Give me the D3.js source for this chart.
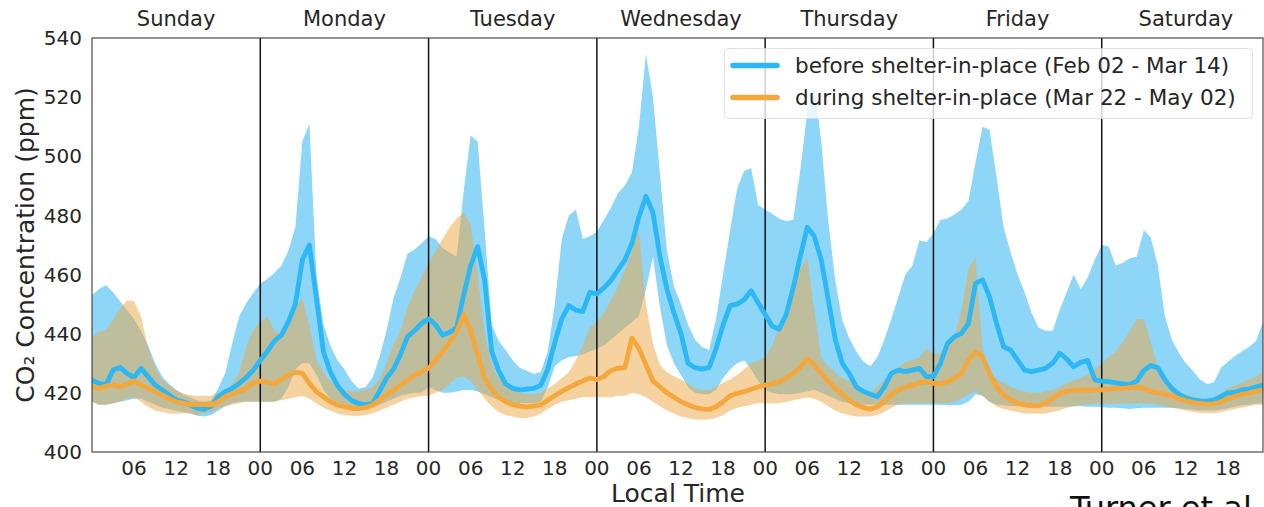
<!DOCTYPE html>
<html>
<head>
<meta charset="utf-8">
<script src="https://cdn.jsdelivr.net/npm/d3@7/dist/d3.min.js"></script>
<style>
  html, body { margin: 0; padding: 0; background: #fff; }
  svg { display: block; font-family: "DejaVu Sans", sans-serif; }
</style>
</head>
<body>
<svg id="chart" width="1264" height="507"></svg>
<script>
// Hour of week (0 = Sunday 00:00) for the hourly profiles
const hours = d3.range(168);
const dayNames = ["Sunday", "Monday", "Tuesday", "Wednesday", "Thursday", "Friday", "Saturday"];
const yTicks = [400, 420, 440, 460, 480, 500, 520, 540];
const xTicks = d3.range(6, 168, 6);
const seriesLabels = [
  "before shelter-in-place (Feb 02 - Mar 14)",
  "during shelter-in-place (Mar 22 - May 02)"
];

// Before shelter-in-place: mean and spread bounds (ppm)
const beforeMean = [
  424.3, 423.2, 422.7, 427.7, 428.6, 426.6, 425.2, 428.3, 425.5, 422.7, 421, 419.3, 417.6, 417, 415.9, 414.8, 414.4, 415.5, 418.7, 420.4, 421.5, 423.2, 425.2, 427.7,
  431, 434, 437.5, 439.5, 444, 450, 465, 470, 452, 434, 427, 422.5, 419.5, 417.5, 416.4, 416, 416.4, 420.5, 425, 428, 433, 439, 441, 443.5,
  445, 443, 439.5, 440.5, 442, 453, 463, 469.5, 458, 434, 427.5, 423, 421.5, 421, 421.3, 421.5, 422.6, 428, 437, 445, 449.5, 448, 447.5, 454,
  453.5, 455.5, 458, 461.5, 465, 470.5, 479.5, 486.5, 481, 466, 455, 447, 440, 430, 428.5, 428, 428.5, 435, 443, 449.5, 450, 451.5, 454.5, 450.5,
  446.5, 442.5, 441.5, 446.5, 455.5, 466, 476, 473, 465, 451.5, 438, 430, 426.5, 422, 420.5, 419.5, 418.7, 422, 426.6, 427.7, 427.2, 427.7, 428.3, 425.5,
  425.5, 430, 436.7, 439, 440.1, 443.5, 457, 458.2, 452.5, 443.5, 435.6, 434.5, 431.1, 427.7, 427.2, 427.7, 428.3, 430, 433.4, 431.5, 428.8, 430.3, 431, 424.5,
  424, 423.8, 423.4, 423, 422.8, 424, 427.5, 429.3, 428.5, 424.5, 421.5, 419.5, 418.3, 417.6, 417.3, 417.2, 417.6, 418.7, 420, 420.2, 421, 421.3, 422, 422.5
];
const beforeHigh = [
  453, 455, 456.5, 454, 451, 448, 445, 441, 436, 430, 425.5, 423, 421, 419.5, 418.5, 417.5, 417, 417.5, 421.6, 426.6, 436.8, 445.8, 450.4, 453.8,
  457, 458.5, 460.5, 463, 468, 476, 505, 511, 460, 443, 436, 431, 428, 424, 421.5, 422, 425, 432, 441, 452, 459, 467, 468.5, 470.5,
  473, 472, 469, 467.5, 466, 488, 507, 505, 475, 443, 437.5, 434.5, 431, 428.5, 427.5, 426.5, 427, 434, 450, 472, 480, 482, 472, 473,
  474.5, 478.5, 482.5, 487.5, 490, 494.5, 510, 534.5, 520, 494, 468, 456, 450, 443, 438, 435.5, 434.5, 445, 460, 475, 489, 495, 496, 483.5,
  482, 480.5, 479, 478, 478.5, 495, 515, 524, 505, 478, 458, 444.5, 438.5, 434, 430.5, 429, 432, 438, 445, 452.5, 460, 463, 471.5, 471,
  474, 478.5, 479, 480.3, 482, 485, 498, 510, 509, 493, 476, 467.5, 460, 454, 447, 442, 441, 441, 448, 454, 460, 455, 459, 465,
  470, 469.5, 463, 464, 465.5, 466, 475, 472.5, 463, 446, 438, 433.5, 430, 427.5, 424.5, 423, 423.5, 428.5, 430.5, 432.5, 434, 435.5, 437.5, 444
];
const beforeLow = [
  417, 416, 416, 416.5, 417, 417.5, 418, 418, 417, 416, 415, 414.5, 414, 413.5, 413, 412.3, 412, 412.5, 414, 415.5, 416.5, 417, 417, 417,
  417, 417, 417, 418, 422, 428, 430, 430, 426, 421, 418, 416.5, 415.5, 415, 414.5, 414.5, 415, 416, 417, 418, 419, 419.5, 420, 420,
  422, 421, 420, 420, 420.5, 421, 421, 420.5, 419.5, 418.5, 417.5, 417, 416.5, 416.5, 416.5, 416.5, 417, 422, 429, 431, 432, 432.5, 433, 434,
  435, 436, 438, 440, 442, 444, 446, 455, 466, 449, 436, 430, 426, 422, 420, 419.5, 419.5, 421, 425, 428, 430, 431, 428, 424,
  421, 420, 419.5, 419.5, 419.5, 420, 420.5, 421, 420, 419, 418, 417, 416.5, 416, 416, 416, 416, 416, 416, 416, 416, 416, 416, 416,
  416, 416, 415.8, 415.8, 416, 417, 419.5, 419, 417, 416, 415.8, 415.5, 415.5, 415.5, 415.3, 415.3, 415.3, 415.3, 415.3, 415.3, 415.5, 415.5, 415.3, 415.3,
  415.2, 415, 415, 414.8, 414.5, 414.8, 415, 415, 415, 415, 415, 414.8, 414.5, 414.3, 414, 414, 414, 414.3, 414.8, 415.3, 415.8, 416, 416.3, 416.5
];

// During shelter-in-place: mean and spread bounds (ppm)
const duringMean = [
  422, 421.5, 422.3, 422.7, 422, 423, 424, 422.7, 421.5, 420.4, 419.3, 418, 417, 416.5, 416, 416, 416, 416, 417, 418.7, 419.7, 420.4, 421.5, 423.2,
  424, 423.5, 423, 424.5, 426, 427, 426.6, 423.2, 420.4, 418.7, 417, 415.9, 415.3, 414.7, 414.7, 415, 415.9, 417.6, 419.3, 420.9, 422.6, 424.3, 426, 427.1,
  428.3, 431, 434, 437, 440.5, 446.5, 441, 433, 425, 421.2, 418.5, 417, 416, 415.5, 415.2, 415.5, 416, 417.5, 419, 420.5, 421.8, 423, 424, 425,
  424.5, 425.5, 427.5, 428.3, 428.5, 438.5, 435, 429.5, 424, 422, 420, 418.5, 417, 416, 415, 414.6, 414.4, 415.3, 417, 419, 419.8, 420.4, 421.2, 422,
  422.6, 423, 423.8, 425, 426.5, 428.5, 431.5, 429.5, 426.5, 424, 421.5, 419.5, 417.5, 416, 415, 414.5, 415.3, 417, 419.3, 421, 421.9, 422.6, 423.4, 423.8,
  423.2, 423, 423.8, 424.9, 426.6, 431.1, 433.9, 432.2, 426.6, 422.1, 419.3, 417.6, 416.5, 415.9, 415.6, 415.6, 416.5, 418.1, 419.8, 420.5, 420.8, 421, 420.8, 421,
  421, 421.2, 421.5, 421.5, 421.8, 422, 421.5, 420.5, 420, 419.5, 419, 418, 417.3, 416.8, 416.4, 416.2, 416.3, 417, 418, 418.8, 419.5, 420, 420.5, 421
];
const duringHigh = [
  439, 440.7, 441.3, 444.6, 448.6, 451.2, 451, 445.8, 435.2, 428.8, 424.3, 422.7, 421, 419.8, 419.3, 418.9, 419, 419, 420, 421, 423, 427, 435.6, 441.3,
  444, 446, 441, 440, 444, 449, 452, 443, 431, 427, 424, 422.5, 421, 420.5, 420.5, 421, 422, 424.5, 430, 436.5, 441, 449, 454.5, 459,
  464, 468, 472, 476, 479, 481, 477, 460, 440, 430, 425, 422.5, 421, 420, 419.5, 419.5, 420, 421.5, 423, 425, 427, 431, 436, 442,
  444, 447, 451.5, 456, 461.5, 468, 475, 450, 436.5, 429.5, 427, 425.5, 424.5, 423, 421.5, 421, 421, 422, 423.5, 424.5, 426, 428, 430, 431,
  432, 436, 443, 448, 456, 462, 466, 448, 432, 429, 427, 425, 424, 422.5, 421, 420, 422, 424.5, 426.5, 428.5, 430.5, 431, 432, 435,
  433, 433.5, 436, 439, 448, 462, 466, 435, 427, 424.5, 423.5, 422, 421, 420.5, 420, 420, 420.5, 421, 422, 423.3, 424.3, 425, 426.3, 428,
  430, 432, 434, 437, 441, 445, 445, 437, 429, 425, 423, 420.5, 419.5, 418.7, 418, 417.6, 418.5, 420, 421.5, 422.5, 423.5, 424.5, 425.5, 427
];
const duringLow = [
  417, 416, 416, 416.5, 417, 418, 418.5, 417, 415.3, 414, 413.5, 413, 413, 413, 413, 412.5, 413, 413.5, 414.5, 415.5, 416, 416.5, 417, 417,
  417, 417, 417, 417.5, 418, 418.5, 419, 418, 416.5, 415, 414, 413, 412.5, 412.3, 412.3, 412.5, 413, 414, 415, 416, 417, 418, 418.5, 419,
  419, 420, 421, 423, 425, 425.5, 424, 421, 418, 415.5, 413.5, 412.5, 412, 411.5, 411.5, 412, 413, 414.5, 416, 417, 417.5, 418, 418.5, 418.5,
  418.5, 418.5, 418.5, 419, 419, 420, 419.5, 418.5, 417, 415.5, 414, 413, 412, 411.5, 411, 411, 411, 411.5, 412.5, 414, 415, 415.5, 416, 416.5,
  416.5, 416.5, 416.5, 417, 417.5, 418, 418.5, 418, 417, 415.5, 414, 413, 412.5, 412, 412, 412, 412.5, 413.5, 415, 416, 416.5, 416.5, 416.5, 416.5,
  416.5, 416.5, 416.5, 417, 418, 419.5, 420.5, 419, 417, 415.5, 414.5, 414, 413.5, 413, 413, 413, 413, 413.5, 414, 415, 415.5, 416, 416, 416.3,
  416.3, 416.3, 416.3, 416.3, 416.5, 416.5, 416.5, 416.3, 416, 415.5, 415, 414.5, 414, 413.5, 413.3, 413.2, 413.2, 413.5, 414, 414.5, 415, 415.5, 416, 416
];

const svg = d3.select("#chart");
const plotL = 92, plotT = 38, plotB = 452, plotR = 1263;

const x = d3.scaleLinear().domain([0, 167]).range([plotL, plotR]);
const y = d3.scaleLinear().domain([400, 540]).range([plotB, plotT]);

const blueLine = "#2cb7f5";
const blueFill = "#8dd6f8";
const orangeLine = "#f4a73b";
const orangeFill = "#eca848";

svg.append("defs").append("clipPath").attr("id", "plotClip")
  .append("rect").attr("x", plotL).attr("y", plotT)
  .attr("width", plotR - plotL).attr("height", plotB - plotT);

const plot = svg.append("g").attr("clip-path", "url(#plotClip)");

const band = (lo, hi) => d3.area()
  .x(h => x(h))
  .y0(h => y(lo[h]))
  .y1(h => y(hi[h]));

const meanLine = vals => d3.line()
  .x(h => x(h))
  .y(h => y(vals[h]));

// Spread bands
plot.append("path").datum(hours)
  .attr("d", band(beforeLow, beforeHigh))
  .attr("fill", blueFill);
plot.append("path").datum(hours)
  .attr("d", band(duringLow, duringHigh))
  .attr("fill", orangeFill).attr("fill-opacity", 0.52);

// Day separators
plot.selectAll("line.day").data(d3.range(24, 168, 24)).join("line")
  .attr("class", "day")
  .attr("x1", d => x(d)).attr("x2", d => x(d))
  .attr("y1", plotT).attr("y2", plotB)
  .attr("stroke", "#111").attr("stroke-width", 1.5);

// Mean lines
plot.append("path").datum(hours)
  .attr("d", meanLine(beforeMean))
  .attr("fill", "none").attr("stroke", blueLine)
  .attr("stroke-width", 4.8).attr("stroke-linejoin", "round").attr("stroke-linecap", "round");
plot.append("path").datum(hours)
  .attr("d", meanLine(duringMean))
  .attr("fill", "none").attr("stroke", orangeLine)
  .attr("stroke-width", 4.8).attr("stroke-linejoin", "round").attr("stroke-linecap", "round");

// Frame
svg.append("rect")
  .attr("x", plotL).attr("y", plotT)
  .attr("width", plotR - plotL).attr("height", plotB - plotT)
  .attr("fill", "none").attr("stroke", "#3a3a3a").attr("stroke-width", 1.1);

// Y axis tick labels
svg.append("g").selectAll("text").data(yTicks).join("text")
  .attr("x", plotL - 10)
  .attr("y", d => y(d))
  .attr("dy", "0.36em")
  .attr("text-anchor", "end")
  .attr("font-size", 20)
  .attr("fill", "#262626")
  .text(d => d);

// X axis tick labels (hour of day)
svg.append("g").selectAll("text").data(xTicks).join("text")
  .attr("x", d => x(d))
  .attr("y", plotB + 23)
  .attr("text-anchor", "middle")
  .attr("font-size", 20)
  .attr("fill", "#262626")
  .text(d => d3.format("02d")(d % 24));

// Day names along the top
svg.append("g").selectAll("text").data(dayNames).join("text")
  .attr("x", (d, i) => x(12 + 24 * i))
  .attr("y", 26)
  .attr("text-anchor", "middle")
  .attr("font-size", 21)
  .attr("fill", "#262626")
  .text(d => d);

// Axis titles
svg.append("text")
  .attr("x", (plotL + plotR) / 2 + 0.5)
  .attr("y", 502)
  .attr("text-anchor", "middle")
  .attr("font-size", 25)
  .attr("fill", "#262626")
  .text("Local Time");

svg.append("text")
  .attr("transform", `translate(34, ${(plotT + plotB) / 2}) rotate(-90)`)
  .attr("text-anchor", "middle")
  .attr("font-size", 25)
  .attr("fill", "#262626")
  .text("CO₂ Concentration (ppm)");

// Legend
const legend = svg.append("g");
legend.append("rect")
  .attr("x", 724.5).attr("y", 48.5).attr("width", 528).attr("height", 70)
  .attr("rx", 4).attr("ry", 4)
  .attr("fill", "#fff").attr("fill-opacity", 0.8)
  .attr("stroke", "#d8d8d8").attr("stroke-opacity", 0.8).attr("stroke-width", 1);
const legendRows = [
  { label: seriesLabels[0], color: blueLine },
  { label: seriesLabels[1], color: orangeLine }
];
legendRows.forEach((r, i) => {
  const cy = 65.5 + i * 32;
  legend.append("line")
    .attr("x1", 733).attr("x2", 777).attr("y1", cy).attr("y2", cy)
    .attr("stroke", r.color).attr("stroke-width", 5.5).attr("stroke-linecap", "round");
  legend.append("text")
    .attr("x", 795).attr("y", cy + 7.5)
    .attr("font-size", 21.5).attr("fill", "#262626")
    .text(r.label);
});

// Citation
svg.append("text")
  .attr("x", 1070).attr("y", 519)
  .attr("font-size", 32).attr("fill", "#111")
  .text("Turner et al.");
</script>
</body>
</html>
